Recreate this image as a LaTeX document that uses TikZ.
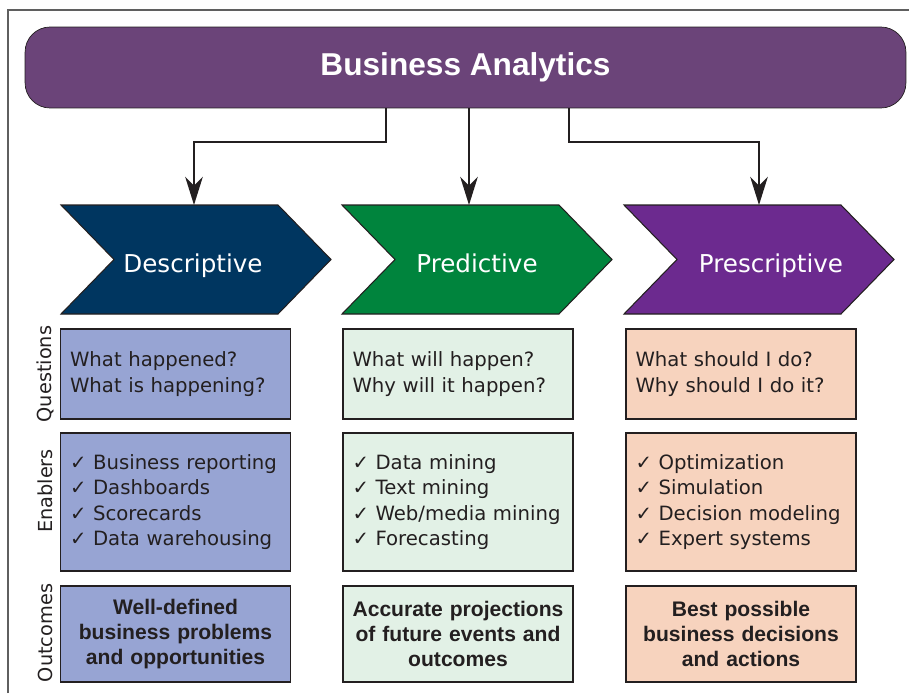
\documentclass[tikz,border=0pt]{standalone}
\usepackage{fontspec}
\setmainfont{DejaVu Sans}
\newfontfamily\boldfont{Liberation Sans}
\usetikzlibrary{arrows.meta}
\hyphenpenalty=10000

\definecolor{bannerpurple}{RGB}{107,68,121}
\definecolor{descblue}{RGB}{0,54,96}
\definecolor{predgreen}{RGB}{0,132,61}
\definecolor{prespurple}{RGB}{108,42,143}
\definecolor{descfill}{RGB}{151,164,211}
\definecolor{predfill}{RGB}{226,241,230}
\definecolor{presfill}{RGB}{247,211,190}
\definecolor{inkgray}{RGB}{35,31,32}
\definecolor{framegray}{RGB}{95,95,95}

\tikzset{
  banner/.style={draw=inkgray, fill=bannerpurple, rounded corners=0.5cm, minimum width=17.62cm,
    minimum height=1.62cm, text=white, font=\boldfont\bfseries\fontsize{18}{20}\selectfont},
  chevron/.style={draw=inkgray, line width=0.6pt},
  chevlabel/.style={anchor=base, text=white, font=\fontsize{14}{16}\selectfont},
  infobox/.style={draw=inkgray, line width=0.7pt, minimum width=4.6cm, text width=4.22cm,
    inner xsep=0.19cm, align=left, text=inkgray, font=\fontsize{11.2}{14.4}\selectfont},
  outbox/.style={infobox, text width=4.4cm, inner xsep=0.1cm, align=center,
    font=\boldfont\bfseries\fontsize{12}{14.3}\selectfont},
  sidelabel/.style={rotate=90, text=inkgray, font=\fontsize{11}{13}\selectfont},
  flow/.style={draw=inkgray, line width=1.2pt, -{Stealth[length=16pt,width=10pt,inset=5pt]}}
}

\begin{document}
\begin{tikzpicture}[x=0.02cm, y=-0.02cm]
  \useasboundingbox (0,0) rectangle (909,693);
  \draw[framegray, line width=0.8pt] (8,693) -- (8,10) -- (909,10);

  \node[banner] (ba) at (465.5,67.5) {\raisebox{-2.5pt}{Business Analytics}};

  % the three chevrons
  \foreach \x/\name/\col/\txt/\ax/\tx in {61/desc/descblue/Descriptive/133/132,
      342/pred/predgreen/Predictive/127/135, 624/pres/prespurple/Prescriptive/135/147} {
    \draw[chevron, fill=\col] (\x,205) -- ++(217,0) -- ++(53,54.5) -- ++(-53,54.5)
      -- ++(-217,0) -- ++(53,-54.5) -- cycle;
    \node[chevlabel] (\name) at (\x+\tx,272) {\txt};
    \coordinate (\name-in) at (\x+\ax,205);
  }

  \coordinate (s1) at (386,108);
  \coordinate (s3) at (569,108);
  \draw[flow] (s1) -- ++(0,34) -| (desc-in);
  \draw[flow] (ba.south -| pred-in) -- (pred-in);
  \draw[flow] (s3) -- ++(0,34) -| (pres-in);

  % row labels
  \node[sidelabel] (qlab) at (45.5,374) {Questions};
  \node[sidelabel] (elab) at (45.5,491) {Enablers};
  \node[sidelabel] (olab) at (45.5,633) {Outcomes};

  % questions
  \node[infobox, fill=descfill, minimum height=1.8cm] (descq) at (175.5,374)
    {What happened?\\What is happening?};
  \node[infobox, fill=predfill, minimum height=1.8cm] (predq) at (458,374)
    {What will happen?\\Why will it happen?};
  \node[infobox, fill=presfill, minimum height=1.8cm] (presq) at (741,374)
    {What should I do?\\Why should I do it?};

  % enablers
  \node[infobox, fill=descfill, minimum height=2.76cm] (desce) at (175.5,502)
    {✓ Business reporting\\✓ Dashboards\\✓ Scorecards\\✓ Data warehousing};
  \node[infobox, fill=predfill, minimum height=2.76cm] (prede) at (458,502)
    {✓ Data mining\\✓ Text mining\\✓ Web/media mining\\✓ Forecasting};
  \node[infobox, fill=presfill, minimum height=2.76cm] (prese) at (741,502)
    {✓ Optimization\\✓ Simulation\\✓ Decision modeling\\✓ Expert systems};

  % outcomes
  \node[outbox, fill=descfill, minimum height=1.92cm] (desco) at (175.5,634)
    {Well-defined\\business problems\\and opportunities};
  \node[outbox, fill=predfill, minimum height=1.92cm] (predo) at (458,634)
    {Accurate projections\\of future events and\\outcomes};
  \node[outbox, fill=presfill, minimum height=1.92cm] (preso) at (741,634)
    {Best possible\\business decisions\\and actions};
\end{tikzpicture}
\end{document}
